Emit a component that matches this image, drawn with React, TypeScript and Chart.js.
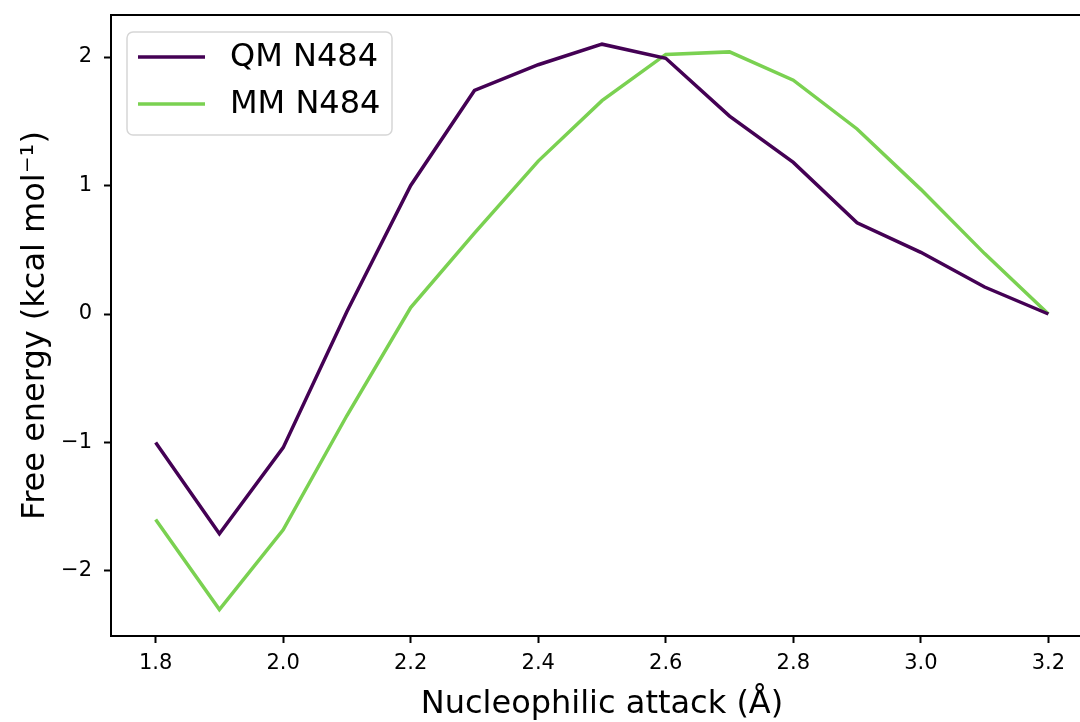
import React, { useEffect, useRef } from "react";
import { Chart, registerables } from "chart.js";

Chart.register(...registerables);

// Reaction coordinate: nucleophilic attack distance (Å)
const distances = [1.8, 1.9, 2.0, 2.1, 2.2, 2.3, 2.4, 2.5, 2.6, 2.7, 2.8, 2.9, 3.0, 3.1, 3.2];
// Free energy profiles (kcal/mol)
const qmN484 = [-1.0, -1.71, -1.04, 0.02, 1.0, 1.74, 1.94, 2.1, 1.99, 1.54, 1.18, 0.71, 0.48, 0.21, 0.0];
const mmN484 = [-1.6, -2.3, -1.68, -0.79, 0.05, 0.63, 1.19, 1.66, 2.02, 2.04, 1.82, 1.44, 0.97, 0.47, 0.0];

const seriesLabels = ["QM N484", "MM N484"];
const seriesColors = ["#440154", "#7ad151"];

const xTickValues = [1.8, 2.0, 2.2, 2.4, 2.6, 2.8, 3.0, 3.2];
const yTickValues = [-2, -1, 0, 1, 2];

const FONT = "'DejaVu Sans', 'Liberation Sans', sans-serif";

// Top and right spines (left/bottom come from the scale borders)
const topSpine = {
  id: "topSpine",
  afterDraw(chart: any) {
    const { ctx, chartArea } = chart;
    ctx.save();
    ctx.strokeStyle = "#000";
    ctx.lineWidth = 2;
    ctx.beginPath();
    ctx.moveTo(chartArea.left - 1, chartArea.top);
    ctx.lineTo(chartArea.right + 1, chartArea.top);
    ctx.moveTo(chartArea.right, chartArea.top);
    ctx.lineTo(chartArea.right, chartArea.bottom);
    ctx.stroke();
    ctx.restore();
  },
};

// Boxed legend in the upper-left corner of the plot area
const boxLegend = {
  id: "boxLegend",
  afterDatasetsDraw(chart: any) {
    const { ctx, chartArea } = chart;
    const x = chartArea.left + 16;
    const y = chartArea.top + 17;
    const w = 265;
    const h = 103;
    const r = 6;
    ctx.save();
    ctx.beginPath();
    ctx.moveTo(x + r, y);
    ctx.arcTo(x + w, y, x + w, y + h, r);
    ctx.arcTo(x + w, y + h, x, y + h, r);
    ctx.arcTo(x, y + h, x, y, r);
    ctx.arcTo(x, y, x + w, y, r);
    ctx.closePath();
    ctx.fillStyle = "rgba(255,255,255,0.8)";
    ctx.fill();
    ctx.strokeStyle = "#d6d6d6";
    ctx.lineWidth = 1.5;
    ctx.stroke();

    chart.data.datasets.forEach((ds: any, i: number) => {
      const rowY = y + 25 + i * 47;
      ctx.strokeStyle = ds.borderColor;
      ctx.lineWidth = 3.5;
      ctx.beginPath();
      ctx.moveTo(x + 11, rowY);
      ctx.lineTo(x + 78, rowY);
      ctx.stroke();
      ctx.fillStyle = "#000";
      ctx.font = `32px ${FONT}`;
      ctx.textAlign = "left";
      ctx.textBaseline = "middle";
      ctx.fillText(ds.label, x + 103, rowY + 1);
    });
    ctx.restore();
  },
};

const fmtMinus = (v: number, digits: number) => {
  const s = Math.abs(v).toFixed(digits);
  return v < 0 ? "\u2212" + s : s;
};

export default function App() {
  const canvasRef = useRef<HTMLCanvasElement | null>(null);

  useEffect(() => {
    if (!canvasRef.current) return;
    const chart = new Chart(canvasRef.current, {
      type: "line",
      data: {
        datasets: [
          {
            label: seriesLabels[0],
            data: distances.map((d, i) => ({ x: d, y: qmN484[i] })),
            borderColor: seriesColors[0],
            backgroundColor: seriesColors[0],
            borderWidth: 3.5,
            pointRadius: 0,
            tension: 0,
          },
          {
            label: seriesLabels[1],
            data: distances.map((d, i) => ({ x: d, y: mmN484[i] })),
            borderColor: seriesColors[1],
            backgroundColor: seriesColors[1],
            borderWidth: 3.5,
            pointRadius: 0,
            tension: 0,
          },
        ],
      },
      options: {
        responsive: false,
        animation: false,
        devicePixelRatio: 1,
        layout: { padding: { left: 0, right: 7, top: 15, bottom: 0 } },
        plugins: {
          legend: { display: false },
          tooltip: { enabled: false },
        },
        scales: {
          x: {
            type: "linear",
            min: 1.73,
            max: 3.27,
            afterBuildTicks: (scale: any) => {
              scale.ticks = xTickValues.map((v) => ({ value: v }));
            },
            afterFit: (scale: any) => {
              scale.height = 86;
              scale.paddingLeft = 0;
              scale.paddingRight = 0;
            },
            border: { display: true, color: "#000", width: 2 },
            grid: {
              drawOnChartArea: false,
              drawTicks: true,
              tickLength: 7,
              tickColor: "#000",
              tickWidth: 2,
            },
            ticks: {
              color: "#000",
              font: { family: FONT, size: 21 },
              padding: 8,
              maxRotation: 0,
              autoSkip: false,
              callback: (v: any) => fmtMinus(Number(v), 1),
            },
            title: {
              display: true,
              text: "Nucleophilic attack (Å)",
              color: "#000",
              font: { family: FONT, size: 32 },
              padding: { top: 0, bottom: -2 },
            },
          },
          y: {
            type: "linear",
            min: -2.506,
            max: 2.327,
            afterBuildTicks: (scale: any) => {
              scale.ticks = yTickValues.map((v) => ({ value: v }));
            },
            afterFit: (scale: any) => {
              scale.width = 111;
              scale.paddingTop = 0;
              scale.paddingBottom = 0;
            },
            border: { display: true, color: "#000", width: 2 },
            grid: {
              drawOnChartArea: false,
              drawTicks: true,
              tickLength: 7,
              tickColor: "#000",
              tickWidth: 2,
            },
            ticks: {
              color: "#000",
              font: { family: FONT, size: 21 },
              padding: 12,
              autoSkip: false,
              callback: (v: any) => fmtMinus(Number(v), 0),
            },
            title: {
              display: true,
              text: "Free energy (kcal mol\u207B\u00B9)",
              color: "#000",
              font: { family: FONT, size: 32 },
              padding: { top: 16, bottom: 0 },
            },
          },
        },
      },
      plugins: [topSpine, boxLegend],
    } as any);
    return () => chart.destroy();
  }, []);

  return (
    <div
      style={{
        position: "fixed",
        left: 0,
        top: 0,
        width: 1080,
        height: 722,
        overflow: "hidden",
        background: "#fff",
      }}
    >
      <canvas ref={canvasRef} width={1100} height={722} style={{ display: "block" }} />
    </div>
  );
}
